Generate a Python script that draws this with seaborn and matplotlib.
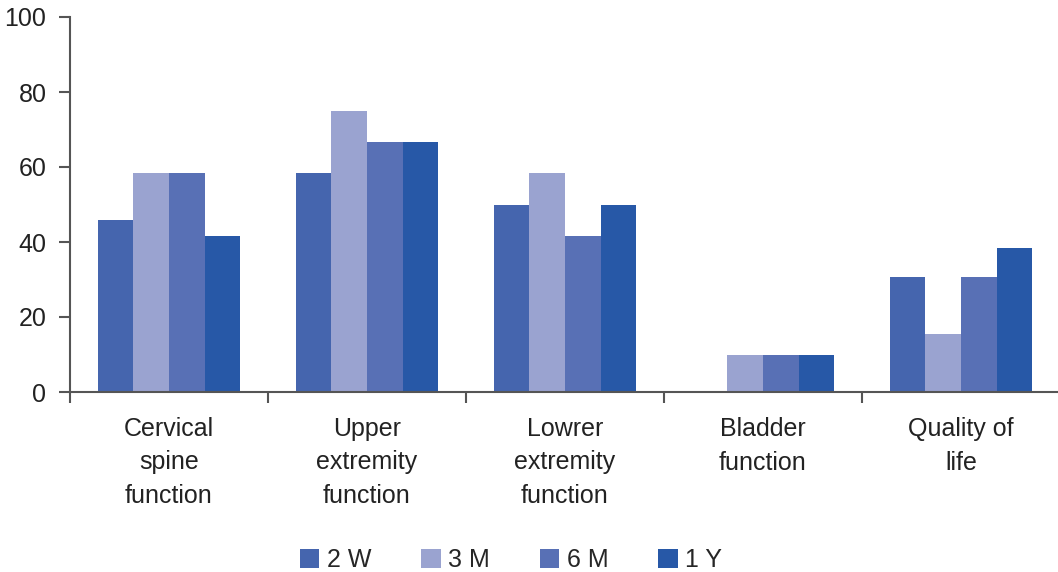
import numpy as np
import pandas as pd
import seaborn as sns
import matplotlib.pyplot as plt

categories = ['Cervical\nspine\nfunction', 'Upper\nextremity\nfunction',
              'Lowrer\nextremity\nfunction', 'Bladder\nfunction', 'Quality of\nlife']
series = ['2 W', '3 M', '6 M', '1 Y']
w2 = [45.8, 58.3, 50.0, 0.0, 30.8]
m3 = [58.3, 75.0, 58.3, 10.0, 15.4]
m6 = [58.3, 66.7, 41.7, 10.0, 30.8]
y1 = [41.7, 66.7, 50.0, 10.0, 38.5]
colors = ['#4565ae', '#9aa3d0', '#5870b5', '#2758a7']

sns.set_style('white')
plt.rcParams['font.family'] = ['Liberation Sans', 'DejaVu Sans']

df = pd.DataFrame({
    'category': categories * 4,
    'period': np.repeat(series, len(categories)),
    'value': w2 + m3 + m6 + y1,
})

fig = plt.figure(figsize=(10.58, 5.72), dpi=100)
ax = fig.add_axes([70 / 1058, 1 - 392 / 572, 1 - 70 / 1058, (392 - 17) / 572])

sns.barplot(data=df, x='category', y='value', hue='period', order=categories,
            hue_order=series, palette=colors, width=0.72, saturation=1,
            edgecolor='none', linewidth=0, ax=ax)

ax.set_ylim(0, 100)
ax.set_xlim(-0.5, 4.49)
ax.set_yticks([0, 20, 40, 60, 80, 100])
ax.set_xlabel('')
ax.set_ylabel('')

# ticks at the group boundaries, labels at the centres
ax.set_xticks(np.arange(-0.5, 4.5, 1.0))
ax.set_xticklabels([])
ax.set_xticks(np.arange(5), minor=True)
ax.set_xticklabels(categories, minor=True, fontsize=18, color='#222222',
                   linespacing=1.5)
ax.tick_params(axis='x', which='minor', bottom=True, length=0, pad=18)
ax.tick_params(axis='x', which='major', bottom=True, length=8, width=1.5,
               color='#555555', direction='out')
ax.tick_params(axis='y', left=True, length=8, width=1.5, color='#555555',
               direction='out', labelsize=18, labelcolor='#222222', pad=9)

for side in ['top', 'right']:
    ax.spines[side].set_visible(False)
for side in ['left', 'bottom']:
    ax.spines[side].set_color('#555555')
    ax.spines[side].set_linewidth(1.5)

handles, labels = ax.get_legend_handles_labels()
ax.get_legend().remove()
fig.legend(handles, labels, loc='center', bbox_to_anchor=(511 / 1058, 1 - 560 / 572),
           ncol=4, frameon=False, fontsize=18, handlelength=0.78, handleheight=0.78,
           handletextpad=0.3, columnspacing=2.0, borderpad=0)

fig.savefig('out.png', dpi=100)
